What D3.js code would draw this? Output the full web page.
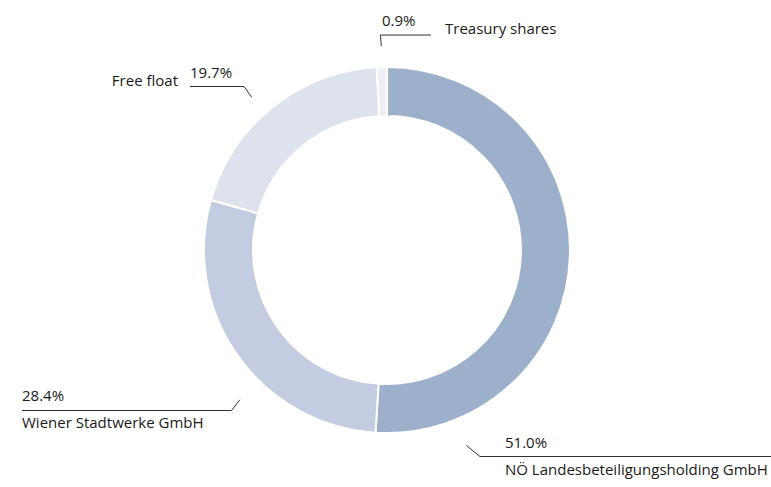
<!DOCTYPE html>
<html>
<head>
<meta charset="utf-8">
<script src="https://cdn.jsdelivr.net/npm/d3@7"></script>
<style>
  body { margin: 0; background: #fff; }
  text { font-family: "Open Sans", sans-serif; font-size: 15px; fill: #1a1a1a; }
</style>
</head>
<body>
<div id="chart"></div>
<script>
var holders = ['NÖ Landesbeteiligungsholding GmbH', 'Wiener Stadtwerke GmbH', 'Free float', 'Treasury shares'];
var shares = [51.0, 28.4, 19.7, 0.9];
var shareLabels = ['51.0%', '28.4%', '19.7%', '0.9%'];

var colors = ['#9db0cb', '#c3cce0', '#dde2ed', '#eceff5'];

var width = 771;
var height = 487;
var cx = 387, cy = 250;
var outerR = 183, innerR = 134;

var svg = d3.select('#chart')
  .append('svg')
  .attr('width', width)
  .attr('height', height);

var pie = d3.pie().sort(null).value(d => d);
var arcs = pie(shares);

var arc = d3.arc()
  .innerRadius(innerR)
  .outerRadius(outerR);

var g = svg.append('g').attr('transform', `translate(${cx},${cy})`);

g.selectAll('path')
  .data(arcs)
  .join('path')
  .attr('d', arc)
  .attr('fill', (d, i) => colors[i])
  .attr('stroke', '#fff')
  .attr('stroke-width', 2);

// label layout: where the leader starts (angle fraction within slice, radius),
// the elbow point and the end of the horizontal leg, plus text positions
var layout = [
  { t: 0.86, r: 211, elbow: [480, 456.5], end: [771, 456.5],
    pct: [505, 448], name: [505, 475] },
  { t: 0.40, r: 210, elbow: [231.5, 410.5], end: [22, 410.5],
    pct: [22, 400.5], name: [22, 428] },
  { t: 0.46, r: 204, elbow: [244, 86.5], end: [190, 86.5],
    pct: [190, 78], name: [178, 86], nameAnchor: 'end' },
  { t: 0.5, r: 204, elbow: [380.5, 35], end: [431, 35],
    pct: [382, 26], name: [445, 34] }
];

function startPoint(d, l) {
  var a = d.startAngle + (d.endAngle - d.startAngle) * l.t;
  return [cx + l.r * Math.sin(a), cy - l.r * Math.cos(a)];
}

svg.append('g')
  .selectAll('polyline')
  .data(arcs)
  .join('polyline')
  .attr('points', (d, i) => {
    var l = layout[i];
    return [startPoint(d, l), l.elbow, l.end].map(p => p.join(',')).join(' ');
  })
  .attr('fill', 'none')
  .attr('stroke', '#333')
  .attr('stroke-width', 1);

svg.append('g')
  .selectAll('text')
  .data(arcs)
  .join('text')
  .attr('x', (d, i) => layout[i].pct[0])
  .attr('y', (d, i) => layout[i].pct[1])
  .text((d, i) => shareLabels[i]);

svg.append('g')
  .selectAll('text')
  .data(arcs)
  .join('text')
  .attr('x', (d, i) => layout[i].name[0])
  .attr('y', (d, i) => layout[i].name[1])
  .attr('text-anchor', (d, i) => layout[i].nameAnchor || 'start')
  .text((d, i) => holders[i]);
</script>
</body>
</html>
